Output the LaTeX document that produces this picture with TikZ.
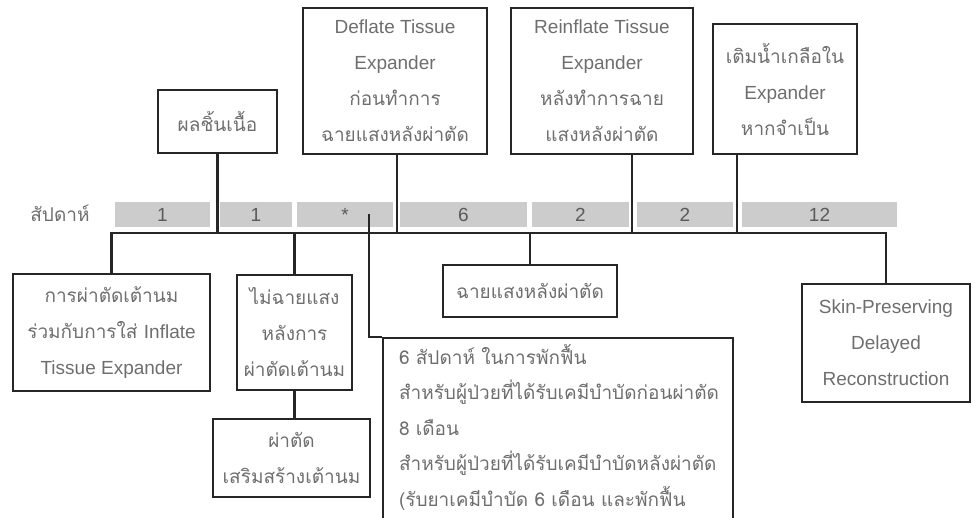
\documentclass[tikz,border=0pt]{standalone}
\usepackage{fontspec}
\setmainfont{Liberation Sans}
\newfontfamily\thaifont[Script=Thai]{Loma}
\usetikzlibrary{positioning}
\definecolor{textgray}{HTML}{6E6E6E}
\definecolor{numgray}{HTML}{5A5A5A}
\definecolor{bargray}{HTML}{CCCCCC}
\definecolor{linegray}{HTML}{262626}
\newcommand{\boxfont}{\fontsize{19}{36}\selectfont}
\newcommand{\en}[1]{{\rmfamily #1}}
\tikzset{
	event/.style={draw=linegray, line width=2pt, align=center, text=textgray,
		font=\boxfont\thaifont, inner sep=0pt},
	weekcell/.style={fill=bargray, minimum height=25pt, inner sep=0pt,
		text=numgray, font=\boxfont},
	link/.style={draw=linegray, line width=2.3pt},
}

\begin{document}
\begin{tikzpicture}[x=1pt, y=-1pt]
	\useasboundingbox (0,0) rectangle (975,518);
	\clip (0,0) rectangle (975,518);

	% week bar
	\node[text=textgray, font=\boxfont\thaifont] (weeklabel) at (60,213) {สัปดาห์};
	\node[weekcell, minimum width=95pt] (w1) at (162.5,214.5) {1};
	\node[weekcell, minimum width=72pt] (w2) at (256,214.5) {1};
	\node[weekcell, minimum width=96pt] (w3) at (345,214.5) {*};
	\node[weekcell, minimum width=127pt] (w4) at (463.5,214.5) {6};
	\node[weekcell, minimum width=97pt] (w5) at (580.5,214.5) {2};
	\node[weekcell, minimum width=96pt] (w6) at (685,214.5) {2};
	\node[weekcell, minimum width=155pt] (w7) at (819.5,214.5) {12};

	% events above the bar
	\node[event, minimum width=184pt, minimum height=146pt] (deflate) at (395,81)
		{\en{Deflate Tissue}\\\en{Expander}\\ก่อนทำการ\\ฉายแสงหลังผ่าตัด};
	\node[event, minimum width=119pt, minimum height=63pt] (biopsy) at (217.5,121.5) {ผลชิ้นเนื้อ};
	\node[event, minimum width=182pt, minimum height=146pt] (reinflate) at (602,81)
		{\en{Reinflate Tissue}\\\en{Expander}\\หลังทำการฉาย\\แสงหลังผ่าตัด};
	\node[event, minimum width=144pt, minimum height=130pt] (saline) at (785,89)
		{เติมน้ำเกลือใน\\\en{Expander}\\หากจำเป็น};

	% events below the bar
	\node[event, minimum width=197pt, minimum height=117pt] (mastect) at (111.5,332.5)
		{การผ่าตัดเต้านม\\ร่วมกับการใส่ \en{Inflate}\\\en{Tissue Expander}};
	\node[event, minimum width=115pt, minimum height=115pt] (noradio) at (294.5,332.5)
		{ไม่ฉายแสง\\หลังการ\\ผ่าตัดเต้านม};
	\node[event, minimum width=157pt, minimum height=78pt] (recon) at (291.5,458)
		{ผ่าตัด\\เสริมสร้างเต้านม};
	\node[event, minimum width=174pt, minimum height=52pt] (radio) at (530,291) {ฉายแสงหลังผ่าตัด};
	% runs on past the lower edge, as in the original
	\node[event, anchor=north west, align=left, text width=318pt, inner xsep=16pt, inner ysep=6pt,
		font=\fontsize{19}{35.5}\selectfont\thaifont] (recovery) at (382,337)
		{6 สัปดาห์ ในการพักฟื้น\\สำหรับผู้ป่วยที่ได้รับเคมีบำบัดก่อนผ่าตัด\\8 เดือน\\สำหรับผู้ป่วยที่ได้รับเคมีบำบัดหลังผ่าตัด\\(รับยาเคมีบำบัด 6 เดือน และพักฟื้น\\\mbox{}};
	\node[event, font=\boxfont, minimum width=168pt, minimum height=118pt] (skin) at (886,343)
		{Skin-Preserving\\Delayed\\Reconstruction};

	% connectors
	\coordinate (trunk) at (500,233);
	\coordinate (starpt) at (369,214);
	\draw[link] (mastect.north) |- (trunk) -| (skin.north);
	\draw[link] (biopsy.south) -- (biopsy.south |- trunk);
	\draw[link] ([xshift=2pt]deflate.south) -- ([xshift=2pt]deflate.south |- trunk);
	\draw[link] ([xshift=30pt]reinflate.south) -- ([xshift=30pt]reinflate.south |- trunk);
	\draw[link] ([xshift=-48pt]saline.south) -- ([xshift=-48pt]saline.south |- trunk);
	\draw[link] (noradio.north) -- (noradio.north |- trunk);
	\draw[link] (noradio.south) -- (noradio.south |- recon.north);
	\draw[link] (radio.north) -- (radio.north |- trunk);
	\draw[link] (starpt) |- (recovery.north west);
\end{tikzpicture}
\end{document}
